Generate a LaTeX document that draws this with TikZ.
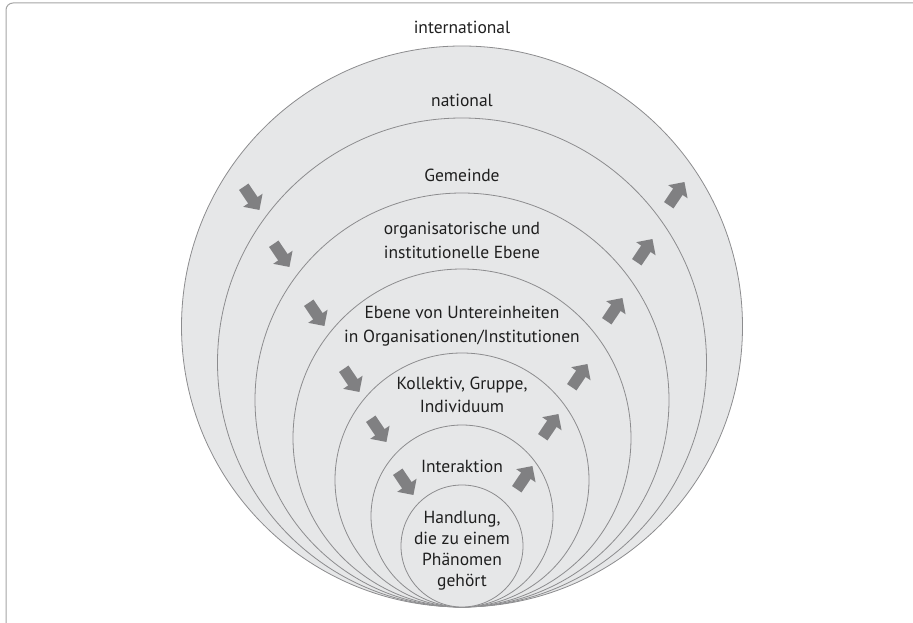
\documentclass[tikz,border=0pt]{standalone}
\usepackage{fontspec}
\setmainfont{PT Sans}
\usetikzlibrary{shapes.arrows}
\definecolor{ringfill}{RGB}{230,231,232}
\definecolor{ringline}{RGB}{140,140,142}
\definecolor{arrowgray}{RGB}{128,128,130}
\definecolor{framegray}{RGB}{165,165,165}

\begin{document}
\begin{tikzpicture}[x=1pt,y=-1pt,
  lbl/.style={align=center,font=\fontsize{17.5}{23.5}\selectfont,text=black!88,inner sep=0pt},
  blockarrow/.style={single arrow,fill=arrowgray,draw=none,minimum height=28pt,
    single arrow head extend=6pt,inner xsep=0pt,inner ysep=5.5pt}]
  \useasboundingbox (0,0) rectangle (913,623);
  \clip (0,0) rectangle (913,623);
  % frame, running off the right and bottom edges
  \draw[framegray,line width=1pt,rounded corners=7pt] (6,3) rectangle (940,650);
  % nested levels, all touching at the bottom
  \foreach \r in {280.5,244.5,207,169,127,91,61}
    \draw[ringline,fill=ringfill,line width=0.8pt] (462,607-\r) circle[radius=\r];
  % level labels
  \node[lbl] (intl) at (462,27) {international};
  \node[lbl] (natl) at (462,100) {national};
  \node[lbl] (gem) at (462,175) {Gemeinde};
  \node[lbl] (org) at (462,240.5) {organisatorische und\\institutionelle Ebene};
  \node[lbl] (sub) at (462,326) {Ebene von Untereinheiten\\in Organisationen/Institutionen};
  \node[lbl] (koll) at (462,395) {Kollektiv, Gruppe,\\Individuum};
  \node[lbl] (inter) at (462,466) {Interaktion};
  \node[lbl,font=\fontsize{17.5}{21}\selectfont] (hand) at (462,551)
    {Handlung,\\die zu einem\\Phänomen\\gehört};
  % inward arrows on the left, outward on the right
  \foreach \x/\y [count=\i] in {250/196,280/253,315/312,350/378,377/428,404/481}
    \node[blockarrow,rotate=-56] (down\i) at (\x,\y) {};
  \foreach \x/\y [count=\i] in {675/196,643/253,613/312,578/378,549/428,523/480}
    \node[blockarrow,rotate=56] (up\i) at (\x,\y) {};
\end{tikzpicture}
\end{document}
